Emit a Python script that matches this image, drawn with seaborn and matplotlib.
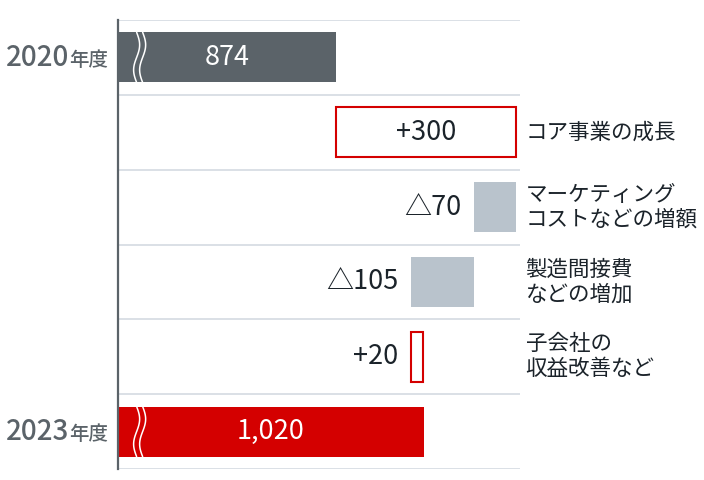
import numpy as np
import pandas as pd
import matplotlib
matplotlib.use("Agg")
import matplotlib.pyplot as plt
import matplotlib.transforms as mtrans
import seaborn as sns

sns.set_theme(style="white")
plt.rcParams['font.family'] = ['Noto Sans CJK JP', 'DejaVu Sans']

# data
rows = ["2020年度", "コア事業の成長", "マーケティング\nコストなどの増額",
        "製造間接費\nなどの増加", "子会社の\n収益改善など", "2023年度"]
values = [874, 300, -70, -105, 20, 1020]
value_labels = ["874", "+300", "△70", "△105", "+20", "1,020"]
kinds = ["total", "up", "down", "down", "up", "total"]

# waterfall start / width
starts = []
widths = []
cum = 0
for v, k in zip(values, kinds):
    if k == "total":
        starts.append(0)
        widths.append(v)
        cum = v
    elif v >= 0:
        starts.append(cum)
        widths.append(v)
        cum += v
    else:
        cum += v
        starts.append(cum)
        widths.append(-v)

df = pd.DataFrame({"row": [f"r{i}" for i in range(len(rows))],
                   "start": starts, "width": widths, "kind": kinds})

GRAY_DARK = "#5b6369"
RED = "#d40000"
GRAY_LIGHT = "#b9c3cc"
GRID = "#dbe0e6"
TEXT = "#1b232a"

fig = plt.figure(figsize=(7.04, 4.8), dpi=100)
ax = fig.add_axes([118 / 704, 1 - 469 / 480, 402 / 704, 449 / 480])

BAR_H = 0.67
sns.barplot(data=df, x="width", y="row", ax=ax, width=BAR_H,
            left=df["start"].values, color=GRAY_DARK, saturation=1)

styles = {
    "r0": dict(fc=GRAY_DARK, ec="none", lw=0),
    "r1": dict(fc="white", ec=RED, lw=1.5),
    "r2": dict(fc=GRAY_LIGHT, ec="none", lw=0),
    "r3": dict(fc=GRAY_LIGHT, ec="none", lw=0),
    "r4": dict(fc="white", ec=RED, lw=1.5),
    "r5": dict(fc=RED, ec="none", lw=0),
}
for p, r in zip(ax.patches, df["row"]):
    s = styles[r]
    p.set_facecolor(s["fc"])
    p.set_edgecolor(s["ec"])
    p.set_linewidth(s["lw"])

XMIN, XMAX = 511, 1180
ax.set_xlim(XMIN, XMAX)
ax.set_ylim(len(rows) - 0.5, -0.5)

# row separators
for b in np.arange(-0.5, len(rows), 1.0):
    ax.axhline(b, color=GRID, lw=1.4, zorder=0)

ax.set_xticks([])
ax.set_yticks([])
ax.set_xlabel("")
ax.set_ylabel("")
for s in ["top", "right", "bottom"]:
    ax.spines[s].set_visible(False)
ax.spines["left"].set_color(GRAY_DARK)
ax.spines["left"].set_linewidth(1.6)

# axis break marks on total bars
yy = np.linspace(-BAR_H / 2, BAR_H / 2, 60)
for i, k in enumerate(kinds):
    if k != "total":
        continue
    for x0 in (XMIN + 31, XMIN + 41):
        xx = x0 + 5 * np.sin(2 * np.pi * (yy + BAR_H / 2) / BAR_H)
        ax.plot(xx, i + yy, color="white", lw=1.1, zorder=5)

# value labels
for i, (lab, k) in enumerate(zip(value_labels, kinds)):
    st, w = starts[i], widths[i]
    if k == "total":
        ax.text((XMIN + st + w) / 2, i, lab, ha="center", va="center",
                color="white", fontsize=19.5, zorder=6)
    elif w > 150:
        ax.text(st + w / 2, i, lab, ha="center", va="center",
                color=TEXT, fontsize=19.5)
    else:
        ax.annotate(lab, xy=(st, i), xytext=(-9.5, 0), textcoords="offset points",
                    ha="right", va="center", color=TEXT, fontsize=19.5)

# category labels
right_tr = mtrans.blended_transform_factory(ax.transAxes, ax.transData)
for i, (name, k) in enumerate(zip(rows, kinds)):
    if k == "total":
        ax.annotate(name[4:], xy=(0, i), xycoords=right_tr, xytext=(-7, -6),
                    textcoords="offset points", ha="right", va="baseline",
                    color=GRAY_DARK, fontsize=14, weight="medium")
        ax.annotate(name[:4], xy=(0, i), xycoords=right_tr, xytext=(-35, -6),
                    textcoords="offset points", ha="right", va="baseline",
                    color=GRAY_DARK, fontsize=20, weight="medium")
    else:
        ax.annotate(name, xy=(1, i), xycoords=right_tr, xytext=(4, 0),
                    textcoords="offset points", ha="left", va="center",
                    color=TEXT, fontsize=15.5, linespacing=1.15)

fig.savefig("out.png", dpi=100)
